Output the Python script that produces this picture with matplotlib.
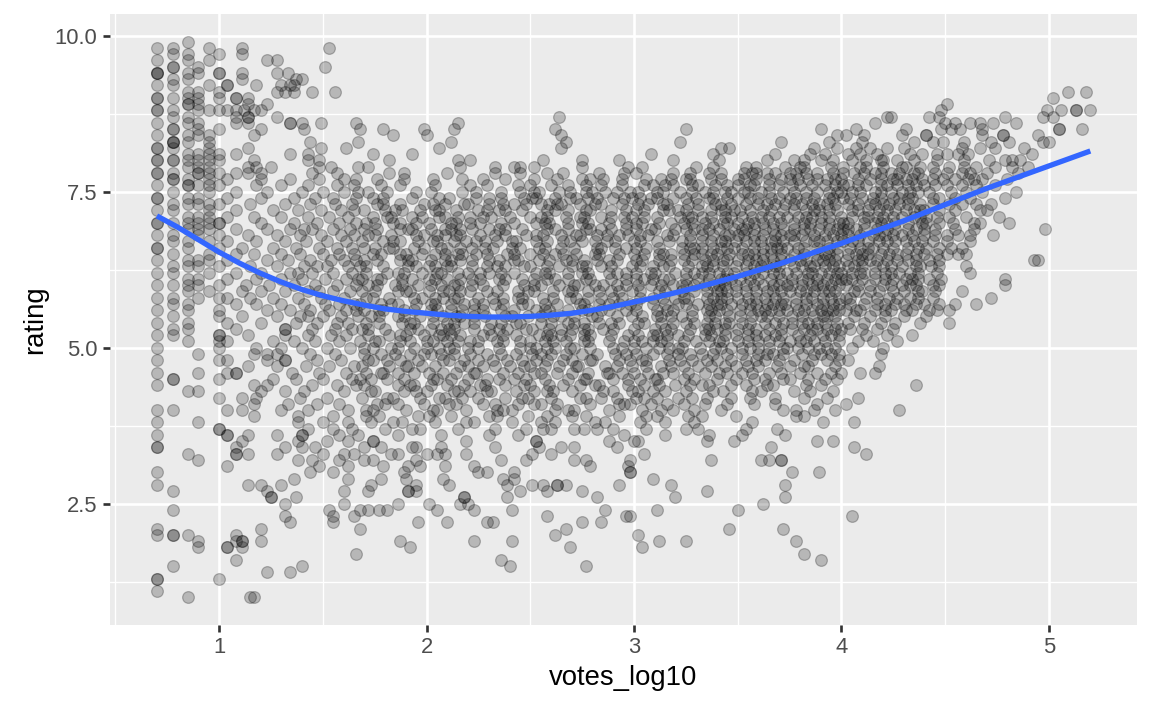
import numpy as np
import matplotlib
matplotlib.use("Agg")
import matplotlib.pyplot as plt

# votes_log10 values of the films, one list per rating row (ratings step 0.1)
ratings_1_2 = {
    1.0: [0.85, 1.15, 1.17],
    1.1: [0.70],
    1.3: [0.70, 0.70, 1.00],
    1.4: [1.23, 1.34],
    1.5: [0.78, 1.40, 2.40, 2.77],
    1.6: [1.08, 2.36, 3.90],
    1.7: [1.66, 3.82],
    1.8: [0.90, 1.04, 1.04, 1.11, 1.92, 2.69, 3.04],
    1.9: [0.90, 1.08, 1.11, 1.11, 1.20, 1.87, 2.23, 2.41, 3.12, 3.25, 3.78],
    2.0: [0.70, 0.78, 0.78, 0.85, 1.08, 2.62, 3.02],
    2.1: [0.70, 1.20, 1.68, 2.67, 3.46, 3.72],
    2.2: [1.34, 1.55, 1.96, 2.10, 2.29, 2.32, 2.75, 2.84],
    2.3: [1.32, 1.55, 1.65, 2.58, 2.96, 2.98, 4.05],
    2.4: [0.78, 1.53, 1.68, 1.72, 1.77, 1.81, 2.05, 2.23, 2.41, 2.86, 3.11, 3.50],
    2.5: [1.32, 1.60, 1.86, 2.01, 2.16, 2.20, 3.62],
    2.6: [1.25, 1.25, 1.37, 2.18, 2.18, 2.39, 2.82, 3.20, 3.73],
    2.7: [0.78, 1.23, 1.60, 1.72, 1.91, 1.91, 1.95, 2.45, 2.58, 2.75, 3.35],
    2.8: [0.70, 1.14, 1.20, 1.30, 1.73, 1.95, 2.11, 2.39, 2.51, 2.56, 2.63, 2.63,
          2.67, 2.93, 3.18, 3.73],
    2.9: [1.36, 1.62, 1.78, 1.90, 2.08, 2.37, 2.42, 3.09],
}

ratings_3 = {
    3.0: [0.70, 1.44, 1.55, 1.89, 2.25, 2.29, 2.42, 2.98, 2.98, 3.76, 3.89],
    3.1: [1.04, 1.48, 1.62, 1.79, 1.91, 1.97, 2.09, 2.23, 2.79, 2.97],
    3.2: [0.90, 1.38, 1.45, 1.58, 1.70, 1.74, 1.95, 2.36, 2.48, 2.71, 2.77, 2.98,
          3.37, 3.61, 3.65, 3.71, 3.71],
    3.3: [0.85, 1.08, 1.08, 1.14, 1.28, 1.50, 1.60, 1.65, 1.83, 1.86, 2.00, 2.05,
          2.09, 2.19, 2.51, 2.60, 3.05, 4.12],
    3.4: [0.70, 0.70, 1.08, 1.32, 1.40, 1.46, 1.70, 1.78, 1.93, 1.95, 2.07, 2.33,
          2.54, 2.65, 2.71, 2.92, 3.66, 4.06],
    3.5: [1.11, 1.38, 1.52, 1.62, 1.74, 1.74, 2.19, 2.53, 2.53, 2.88, 3.00, 3.02,
          3.35, 3.48, 3.88, 3.96],
    3.6: [0.70, 1.04, 1.04, 1.14, 1.28, 1.40, 1.40, 1.58, 1.67, 1.86, 2.07, 2.30,
          2.44, 2.95, 3.15, 3.36, 3.52, 3.73],
    3.7: [1.00, 1.00, 1.43, 1.55, 1.64, 1.80, 1.93, 1.97, 2.15, 2.33, 2.48, 2.56,
          2.60, 2.71, 2.76, 2.82, 2.90, 3.06, 3.25, 3.31, 3.54, 3.69],
    3.8: [0.70, 0.90, 1.38, 1.50, 1.62, 1.73, 1.84, 1.88, 2.04, 2.19, 2.23, 2.41,
          2.55, 2.62, 2.81, 2.86, 3.03, 3.15, 3.29, 3.57, 3.91, 4.06],
    3.9: [1.17, 1.38, 1.55, 1.71, 1.77, 1.96, 2.01, 2.12, 2.30, 2.34, 2.49, 2.58,
          2.70, 2.77, 2.93, 3.06, 3.11, 3.26, 3.33, 3.49, 3.78, 3.82],
}

ratings_4 = {
    4.0: [0.70, 0.78, 1.04, 1.11, 1.30, 1.43, 1.62, 1.71, 1.74, 1.90, 2.03, 2.05,
          2.19, 2.34, 2.37, 2.41, 2.62, 2.68, 2.71, 2.88, 3.04, 3.13, 3.19, 3.29,
          3.42, 3.72, 3.78, 3.87, 3.97, 4.28],
    4.1: [1.17, 1.33, 1.47, 1.58, 1.76, 1.80, 1.86, 1.99, 2.11, 2.14, 2.27, 2.33,
          2.44, 2.52, 2.55, 2.63, 2.79, 2.93, 2.95, 2.98, 3.08, 3.16, 3.24, 3.34,
          3.45, 3.58, 3.68, 3.88, 4.02],
    4.2: [1.00, 1.11, 1.18, 1.39, 1.52, 1.69, 1.81, 1.84, 1.97, 2.06, 2.09, 2.17,
          2.25, 2.38, 2.46, 2.49, 2.60, 2.74, 2.77, 2.84, 2.92, 3.01, 3.05, 3.11,
          3.21, 3.28, 3.35, 3.47, 3.56, 3.68, 3.82, 3.93, 4.08],
    4.3: [0.85, 0.90, 1.20, 1.32, 1.41, 1.60, 1.73, 1.75, 1.89, 1.95, 2.00, 2.13,
          2.15, 2.21, 2.29, 2.31, 2.43, 2.52, 2.58, 2.61, 2.70, 2.85, 2.90, 2.99,
          3.02, 3.09, 3.15, 3.25, 3.38, 3.43, 3.57, 3.61, 3.77, 3.85, 3.96],
    4.4: [0.70, 1.17, 1.23, 1.45, 1.57, 1.66, 1.70, 1.86, 1.92, 1.94, 2.02, 2.10,
          2.18, 2.26, 2.28, 2.38, 2.47, 2.50, 2.59, 2.66, 2.74, 2.81, 2.83, 2.97,
          3.05, 3.12, 3.20, 3.27, 3.33, 3.36, 3.47, 3.54, 3.64, 3.67, 3.83, 3.90,
          4.36],
    4.5: [0.78, 0.78, 1.00, 1.26, 1.37, 1.50, 1.64, 1.68, 1.73, 1.81, 1.89, 2.03,
          2.05, 2.12, 2.20, 2.29, 2.35, 2.42, 2.48, 2.57, 2.68, 2.76, 2.77, 2.90,
          2.97, 3.03, 3.10, 3.11, 3.24, 3.29, 3.40, 3.49, 3.58, 3.63, 3.72, 3.75,
          3.84, 3.92, 3.98],
    4.6: [0.70, 0.90, 1.04, 1.08, 1.08, 1.35, 1.48, 1.61, 1.71, 1.78, 1.79, 1.86,
          1.94, 2.01, 2.08, 2.14, 2.23, 2.24, 2.37, 2.44, 2.52, 2.55, 2.63, 2.70,
          2.78, 2.87, 2.88, 2.94, 3.00, 3.07, 3.14, 3.19, 3.26, 3.34, 3.41, 3.45,
          3.52, 3.57, 3.65, 3.71, 3.80, 3.88, 3.95, 4.00, 4.09, 4.16],
    4.7: [1.14, 1.28, 1.42, 1.53, 1.65, 1.69, 1.82, 1.90, 1.91, 1.98, 2.04, 2.16,
          2.20, 2.27, 2.33, 2.40, 2.47, 2.50, 2.57, 2.64, 2.72, 2.73, 2.86, 2.92,
          2.99, 3.06, 3.13, 3.18, 3.24, 3.31, 3.37, 3.44, 3.49, 3.55, 3.60, 3.69,
          3.75, 3.82, 3.84, 3.97, 4.18],
    4.8: [0.70, 1.00, 1.04, 1.23, 1.32, 1.32, 1.47, 1.59, 1.72, 1.74, 1.81, 1.87,
          1.96, 2.08, 2.11, 2.18, 2.25, 2.32, 2.39, 2.46, 2.53, 2.58, 2.66, 2.70,
          2.79, 2.80, 2.93, 2.98, 3.04, 3.06, 3.17, 3.22, 3.28, 3.35, 3.40, 3.47,
          3.54, 3.59, 3.63, 3.70, 3.77, 3.86, 3.93, 3.99, 4.03],
    4.9: [0.90, 1.17, 1.23, 1.28, 1.44, 1.56, 1.70, 1.78, 1.85, 1.92, 1.99, 2.02,
          2.07, 2.13, 2.21, 2.29, 2.36, 2.43, 2.51, 2.55, 2.60, 2.67, 2.75, 2.82,
          2.91, 2.96, 3.01, 3.09, 3.16, 3.21, 3.27, 3.33, 3.38, 3.45, 3.52, 3.60,
          3.64, 3.67, 3.72, 3.81, 3.87, 3.90, 3.95, 3.99, 4.19],
}

ratings_5 = {
    5.0: [0.70, 1.00, 1.18, 1.30, 1.40, 1.52, 1.63, 1.70, 1.74, 1.83, 1.86, 1.94,
          2.00, 2.06, 2.11, 2.13, 2.20, 2.25, 2.35, 2.45, 2.50, 2.53, 2.58, 2.62,
          2.69, 2.71, 2.79, 2.90, 2.94, 3.00, 3.06, 3.12, 3.17, 3.21, 3.23, 3.32,
          3.39, 3.42, 3.47, 3.52, 3.56, 3.60, 3.65, 3.72, 3.74, 3.79, 3.84, 3.89,
          3.93, 3.97, 4.05, 4.20],
    5.1: [0.85, 1.00, 1.04, 1.26, 1.36, 1.46, 1.58, 1.68, 1.75, 1.77, 1.87, 1.92,
          2.00, 2.03, 2.10, 2.15, 2.21, 2.25, 2.34, 2.37, 2.45, 2.50, 2.57, 2.61,
          2.67, 2.76, 2.78, 2.88, 2.95, 3.00, 3.04, 3.09, 3.13, 3.16, 3.24, 3.30,
          3.36, 3.41, 3.43, 3.50, 3.55, 3.60, 3.65, 3.70, 3.75, 3.80, 3.83, 3.87,
          3.92, 3.99, 4.08, 4.15, 4.27],
    5.2: [0.70, 0.78, 1.00, 1.00, 1.14, 1.32, 1.43, 1.54, 1.61, 1.72, 1.82, 1.87,
          1.90, 1.99, 2.06, 2.08, 2.12, 2.16, 2.27, 2.31, 2.37, 2.43, 2.54, 2.58,
          2.60, 2.65, 2.69, 2.76, 2.79, 2.89, 2.97, 3.02, 3.09, 3.11, 3.16, 3.21,
          3.26, 3.34, 3.37, 3.44, 3.49, 3.55, 3.59, 3.63, 3.68, 3.71, 3.79, 3.85,
          3.91, 3.95, 3.99, 4.12, 4.22, 4.34],
    5.3: [0.78, 0.85, 1.08, 1.32, 1.32, 1.45, 1.56, 1.64, 1.69, 1.72, 1.80, 1.92,
          1.96, 2.02, 2.07, 2.11, 2.13, 2.23, 2.30, 2.35, 2.39, 2.48, 2.51, 2.59,
          2.65, 2.70, 2.76, 2.78, 2.85, 2.90, 3.00, 3.10, 3.15, 3.18, 3.27, 3.34,
          3.36, 3.40, 3.44, 3.50, 3.55, 3.59, 3.65, 3.71, 3.76, 3.82, 3.86, 3.88,
          3.93, 3.97, 4.00, 4.04, 4.10, 4.17, 4.25],
    5.4: [0.70, 0.85, 1.04, 1.20, 1.37, 1.47, 1.57, 1.62, 1.71, 1.77, 1.88, 1.92,
          1.94, 2.03, 2.10, 2.13, 2.18, 2.23, 2.31, 2.36, 2.43, 2.45, 2.55, 2.60,
          2.68, 2.71, 2.76, 2.83, 2.89, 2.93, 3.02, 3.05, 3.13, 3.19, 3.25, 3.29,
          3.35, 3.39, 3.44, 3.46, 3.52, 3.56, 3.63, 3.68, 3.72, 3.76, 3.81, 3.84,
          3.88, 3.92, 3.98, 4.03, 4.11, 4.19, 4.26, 4.38, 4.52],
    5.5: [0.78, 1.00, 1.11, 1.28, 1.39, 1.43, 1.50, 1.59, 1.67, 1.73, 1.77, 1.86,
          1.89, 1.97, 2.03, 2.08, 2.14, 2.16, 2.23, 2.28, 2.38, 2.41, 2.49, 2.55,
          2.61, 2.65, 2.71, 2.80, 2.82, 2.92, 2.99, 3.04, 3.11, 3.13, 3.18, 3.23,
          3.28, 3.36, 3.39, 3.46, 3.51, 3.57, 3.61, 3.64, 3.70, 3.76, 3.81, 3.87,
          3.91, 3.93, 3.97, 4.06, 4.14, 4.21, 4.30, 4.41],
    5.6: [0.70, 0.85, 1.00, 1.23, 1.34, 1.44, 1.53, 1.61, 1.66, 1.70, 1.77, 1.79,
          1.89, 1.94, 2.02, 2.05, 2.12, 2.17, 2.23, 2.27, 2.36, 2.42, 2.53, 2.57,
          2.59, 2.68, 2.75, 2.78, 2.84, 2.88, 2.96, 3.01, 3.11, 3.16, 3.19, 3.28,
          3.35, 3.37, 3.41, 3.45, 3.51, 3.56, 3.60, 3.63, 3.66, 3.70, 3.74, 3.79,
          3.82, 3.86, 3.90, 3.93, 3.96, 3.99, 4.02, 4.07, 4.09, 4.16, 4.21, 4.24,
          4.31, 4.34, 4.42, 4.46, 4.52],
    5.7: [0.78, 0.85, 1.08, 1.18, 1.30, 1.41, 1.51, 1.58, 1.65, 1.68, 1.78, 1.83,
          1.86, 1.95, 2.02, 2.04, 2.12, 2.18, 2.23, 2.27, 2.33, 2.37, 2.46, 2.49,
          2.57, 2.63, 2.74, 2.76, 2.83, 2.88, 2.93, 2.98, 3.01, 3.09, 3.15, 3.21,
          3.25, 3.31, 3.36, 3.40, 3.42, 3.47, 3.52, 3.56, 3.59, 3.64, 3.67, 3.71,
          3.73, 3.78, 3.83, 3.88, 3.91, 3.96, 3.99, 4.04, 4.11, 4.17, 4.21, 4.26,
          4.30, 4.36, 4.40, 4.47, 4.55, 4.65],
    5.8: [0.70, 0.78, 0.90, 1.00, 1.04, 1.15, 1.26, 1.38, 1.49, 1.60, 1.71, 1.74,
          1.82, 1.94, 1.98, 2.04, 2.08, 2.13, 2.15, 2.25, 2.32, 2.37, 2.44, 2.46,
          2.56, 2.61, 2.69, 2.72, 2.78, 2.84, 2.90, 2.94, 3.03, 3.09, 3.14, 3.20,
          3.24, 3.26, 3.35, 3.38, 3.42, 3.45, 3.50, 3.55, 3.59, 3.63, 3.68, 3.72,
          3.78, 3.83, 3.86, 3.91, 3.95, 3.99, 4.02, 4.04, 4.12, 4.17, 4.23, 4.27,
          4.33, 4.37, 4.44, 4.72],
    5.9: [0.85, 0.95, 1.11, 1.20, 1.32, 1.43, 1.48, 1.55, 1.63, 1.69, 1.75, 1.86,
          1.90, 1.92, 2.01, 2.08, 2.11, 2.16, 2.21, 2.29, 2.34, 2.44, 2.49, 2.52,
          2.61, 2.68, 2.70, 2.78, 2.83, 2.89, 2.93, 2.99, 3.03, 3.12, 3.15, 3.23,
          3.29, 3.35, 3.40, 3.42, 3.45, 3.49, 3.54, 3.59, 3.64, 3.67, 3.71, 3.75,
          3.80, 3.83, 3.87, 3.91, 3.94, 3.97, 4.06, 4.08, 4.14, 4.18, 4.25, 4.30,
          4.37, 4.39, 4.45, 4.58],
}

ratings_6 = {
    6.0: [0.70, 0.78, 0.85, 0.90, 1.00, 1.13, 1.24, 1.36, 1.46, 1.57, 1.66, 1.72,
          1.76, 1.85, 1.88, 1.96, 2.02, 2.07, 2.13, 2.15, 2.22, 2.27, 2.37, 2.47,
          2.52, 2.55, 2.64, 2.71, 2.73, 2.81, 2.85, 2.92, 2.96, 3.02, 3.08, 3.13,
          3.19, 3.23, 3.25, 3.29, 3.34, 3.38, 3.41, 3.44, 3.49, 3.54, 3.58, 3.62,
          3.67, 3.70, 3.74, 3.76, 3.81, 3.86, 3.88, 3.91, 3.95, 3.99, 4.02, 4.08,
          4.14, 4.20, 4.24, 4.29, 4.33, 4.36, 4.44, 4.47, 4.79],
    6.1: [0.85, 0.90, 1.04, 1.18, 1.30, 1.40, 1.51, 1.61, 1.67, 1.69, 1.76, 1.78,
          1.88, 1.93, 2.01, 2.04, 2.10, 2.16, 2.22, 2.26, 2.35, 2.38, 2.46, 2.52,
          2.58, 2.62, 2.68, 2.77, 2.79, 2.89, 2.96, 3.01, 3.05, 3.09, 3.14, 3.17,
          3.25, 3.31, 3.36, 3.42, 3.44, 3.47, 3.51, 3.56, 3.60, 3.66, 3.71, 3.76,
          3.81, 3.84, 3.88, 3.93, 3.97, 4.00, 4.02, 4.05, 4.10, 4.16, 4.21, 4.25,
          4.31, 4.34, 4.37, 4.42, 4.48, 4.79],
    6.2: [0.70, 0.78, 0.95, 1.08, 1.20, 1.34, 1.38, 1.45, 1.55, 1.64, 1.71, 1.81,
          1.86, 1.89, 1.98, 2.05, 2.07, 2.15, 2.20, 2.26, 2.30, 2.36, 2.42, 2.53,
          2.57, 2.59, 2.68, 2.75, 2.78, 2.88, 2.92, 2.96, 3.01, 3.08, 3.10, 3.20,
          3.25, 3.29, 3.33, 3.36, 3.41, 3.45, 3.48, 3.54, 3.58, 3.62, 3.67, 3.70,
          3.74, 3.78, 3.84, 3.86, 3.90, 3.94, 3.98, 4.00, 4.05, 4.09, 4.11, 4.16,
          4.21, 4.24, 4.28, 4.33, 4.37, 4.46, 4.62],
    6.3: [0.78, 0.85, 0.90, 1.00, 1.15, 1.28, 1.41, 1.47, 1.52, 1.62, 1.68, 1.71,
          1.79, 1.91, 1.95, 2.01, 2.04, 2.10, 2.12, 2.22, 2.29, 2.34, 2.38, 2.47,
          2.50, 2.58, 2.64, 2.70, 2.75, 2.77, 2.84, 2.89, 2.99, 3.03, 3.09, 3.14,
          3.17, 3.26, 3.33, 3.35, 3.38, 3.43, 3.49, 3.54, 3.58, 3.61, 3.64, 3.68,
          3.70, 3.77, 3.81, 3.85, 3.87, 3.92, 3.96, 3.99, 4.03, 4.06, 4.10, 4.16,
          4.20, 4.24, 4.29, 4.36, 4.38, 4.43, 4.47, 4.60],
    6.4: [0.70, 0.85, 0.90, 0.95, 1.04, 1.23, 1.33, 1.44, 1.54, 1.60, 1.66, 1.70,
          1.76, 1.87, 1.91, 1.93, 2.02, 2.09, 2.12, 2.16, 2.22, 2.30, 2.35, 2.42,
          2.44, 2.54, 2.59, 2.67, 2.70, 2.76, 2.82, 2.88, 2.92, 3.01, 3.04, 3.12,
          3.18, 3.24, 3.28, 3.34, 3.38, 3.43, 3.45, 3.50, 3.55, 3.59, 3.62, 3.67,
          3.71, 3.75, 3.80, 3.83, 3.88, 3.91, 3.94, 3.97, 4.02, 4.08, 4.10, 4.14,
          4.17, 4.22, 4.27, 4.32, 4.36, 4.42, 4.47, 4.93, 4.95],
    6.5: [0.78, 0.95, 1.08, 1.17, 1.30, 1.39, 1.50, 1.58, 1.65, 1.74, 1.78, 1.87,
          1.90, 1.98, 2.04, 2.09, 2.15, 2.17, 2.24, 2.29, 2.39, 2.42, 2.50, 2.56,
          2.62, 2.66, 2.72, 2.81, 2.83, 2.93, 3.00, 3.05, 3.12, 3.14, 3.18, 3.24,
          3.29, 3.33, 3.37, 3.40, 3.46, 3.52, 3.55, 3.58, 3.62, 3.66, 3.71, 3.77,
          3.82, 3.88, 3.92, 3.94, 3.98, 4.03, 4.07, 4.10, 4.13, 4.19, 4.23, 4.27,
          4.31, 4.36, 4.40, 4.46, 4.51, 4.56, 4.60],
    6.6: [0.70, 0.70, 0.85, 1.00, 1.11, 1.26, 1.37, 1.48, 1.57, 1.64, 1.70, 1.75,
          1.82, 1.84, 1.94, 1.99, 2.07, 2.10, 2.16, 2.22, 2.28, 2.32, 2.41, 2.45,
          2.54, 2.57, 2.65, 2.71, 2.82, 2.84, 2.91, 2.96, 3.01, 3.06, 3.12, 3.23,
          3.27, 3.29, 3.33, 3.38, 3.42, 3.45, 3.48, 3.52, 3.58, 3.62, 3.66, 3.69,
          3.71, 3.74, 3.79, 3.82, 3.88, 3.94, 3.98, 4.04, 4.09, 4.13, 4.15, 4.20,
          4.25, 4.32, 4.37, 4.41, 4.47, 4.53, 4.58],
    6.7: [0.78, 0.85, 0.95, 1.04, 1.18, 1.32, 1.42, 1.52, 1.61, 1.69, 1.79, 1.84,
          1.87, 1.96, 2.03, 2.05, 2.13, 2.19, 2.24, 2.28, 2.34, 2.41, 2.43, 2.53,
          2.58, 2.66, 2.69, 2.75, 2.81, 2.87, 2.91, 3.00, 3.03, 3.11, 3.17, 3.23,
          3.27, 3.33, 3.37, 3.42, 3.44, 3.49, 3.54, 3.58, 3.61, 3.66, 3.68, 3.72,
          3.77, 3.83, 3.87, 3.89, 3.93, 3.98, 4.01, 4.05, 4.08, 4.13, 4.18, 4.22,
          4.26, 4.31, 4.35, 4.39, 4.44, 4.51, 4.62],
    6.8: [0.70, 0.78, 0.90, 1.00, 1.14, 1.28, 1.39, 1.49, 1.59, 1.65, 1.72, 1.75,
          1.83, 1.95, 1.99, 2.05, 2.09, 2.14, 2.16, 2.26, 2.33, 2.38, 2.48, 2.53,
          2.56, 2.65, 2.72, 2.74, 2.82, 2.87, 2.93, 2.97, 3.03, 3.07, 3.16, 3.19,
          3.27, 3.33, 3.38, 3.44, 3.46, 3.50, 3.53, 3.58, 3.62, 3.68, 3.71, 3.75,
          3.77, 3.81, 3.87, 3.92, 3.96, 4.00, 4.03, 4.09, 4.15, 4.18, 4.21, 4.25,
          4.29, 4.34, 4.40, 4.45, 4.51, 4.56, 4.62, 4.73],
    6.9: [0.85, 0.90, 0.95, 1.08, 1.23, 1.34, 1.41, 1.45, 1.55, 1.63, 1.70, 1.76,
          1.87, 1.91, 1.93, 2.02, 2.09, 2.12, 2.16, 2.22, 2.30, 2.35, 2.38, 2.46,
          2.58, 2.62, 2.68, 2.77, 2.79, 2.84, 2.89, 2.96, 3.01, 3.08, 3.10, 3.20,
          3.25, 3.29, 3.33, 3.36, 3.41, 3.48, 3.52, 3.54, 3.58, 3.63, 3.67, 3.72,
          3.77, 3.82, 3.85, 3.89, 3.94, 3.98, 4.01, 4.03, 4.07, 4.11, 4.17, 4.22,
          4.26, 4.32, 4.36, 4.40, 4.45, 4.55, 4.64, 4.98],
}

ratings_7 = {
    7.0: [0.70, 0.70, 0.78, 0.85, 0.90, 0.95, 1.00, 1.00, 1.20, 1.36, 1.47, 1.58,
          1.66, 1.71, 1.75, 1.84, 1.87, 1.95, 2.01, 2.12, 2.14, 2.21, 2.26, 2.36,
          2.42, 2.53, 2.57, 2.59, 2.68, 2.75, 2.78, 2.88, 2.96, 3.01, 3.04, 3.12,
          3.18, 3.24, 3.28, 3.34, 3.38, 3.43, 3.45, 3.50, 3.55, 3.58, 3.62, 3.67,
          3.71, 3.77, 3.82, 3.85, 3.90, 3.94, 3.99, 4.01, 4.03, 4.11, 4.16, 4.19,
          4.22, 4.26, 4.32, 4.39, 4.41, 4.47, 4.54, 4.64, 4.67, 4.81],
    7.1: [0.85, 0.90, 0.95, 1.04, 1.17, 1.30, 1.43, 1.53, 1.62, 1.74, 1.81, 1.83,
          1.93, 1.98, 2.06, 2.09, 2.15, 2.21, 2.27, 2.31, 2.40, 2.50, 2.55, 2.58,
          2.67, 2.74, 2.76, 2.84, 2.89, 2.95, 2.99, 3.05, 3.11, 3.22, 3.26, 3.28,
          3.33, 3.37, 3.44, 3.47, 3.52, 3.57, 3.61, 3.65, 3.70, 3.74, 3.79, 3.83,
          3.86, 3.90, 3.94, 4.00, 4.05, 4.11, 4.13, 4.17, 4.20, 4.25, 4.29, 4.35,
          4.38, 4.41, 4.46, 4.52, 4.60, 4.76],
    7.2: [0.70, 0.78, 0.95, 1.08, 1.26, 1.38, 1.49, 1.59, 1.65, 1.70, 1.80, 1.85,
          1.88, 1.97, 2.04, 2.06, 2.14, 2.25, 2.29, 2.35, 2.38, 2.46, 2.58, 2.62,
          2.68, 2.77, 2.79, 2.89, 2.96, 3.01, 3.05, 3.14, 3.17, 3.21, 3.25, 3.31,
          3.37, 3.42, 3.44, 3.48, 3.51, 3.56, 3.62, 3.66, 3.72, 3.77, 3.83, 3.87,
          3.89, 3.94, 3.98, 4.05, 4.08, 4.13, 4.18, 4.22, 4.26, 4.31, 4.35, 4.38,
          4.40, 4.47, 4.55, 4.67, 4.70],
    7.3: [0.78, 0.85, 0.90, 0.95, 1.00, 1.15, 1.32, 1.44, 1.56, 1.64, 1.76, 1.79,
          1.87, 1.99, 2.03, 2.09, 2.18, 2.20, 2.30, 2.37, 2.42, 2.48, 2.55, 2.59,
          2.63, 2.65, 2.74, 2.81, 2.84, 2.94, 3.02, 3.07, 3.14, 3.16, 3.26, 3.31,
          3.39, 3.42, 3.47, 3.54, 3.60, 3.64, 3.68, 3.73, 3.77, 3.81, 3.86, 3.89,
          3.93, 3.97, 4.03, 4.08, 4.14, 4.16, 4.20, 4.23, 4.28, 4.32, 4.38, 4.44,
          4.52, 4.58, 4.65, 4.72],
    7.4: [0.70, 0.70, 0.85, 0.90, 1.04, 1.20, 1.36, 1.46, 1.55, 1.66, 1.74, 1.79,
          1.93, 2.06, 2.11, 2.24, 2.30, 2.36, 2.47, 2.51, 2.53, 2.62, 2.69, 2.72,
          2.78, 2.82, 2.90, 2.95, 2.99, 3.03, 3.08, 3.11, 3.19, 3.25, 3.30, 3.36,
          3.38, 3.45, 3.50, 3.56, 3.60, 3.66, 3.70, 3.75, 3.78, 3.83, 3.87, 3.94,
          3.96, 4.01, 4.04, 4.10, 4.15, 4.19, 4.25, 4.28, 4.32, 4.34, 4.44, 4.47,
          4.55, 4.62, 4.79],
    7.5: [0.78, 0.95, 1.08, 1.23, 1.40, 1.50, 1.60, 1.67, 1.72, 1.81, 1.95, 2.02,
          2.17, 2.24, 2.36, 2.45, 2.52, 2.54, 2.64, 2.69, 2.77, 2.80, 2.86, 2.92,
          2.98, 3.02, 3.11, 3.14, 3.22, 3.28, 3.34, 3.38, 3.44, 3.47, 3.53, 3.55,
          3.61, 3.65, 3.72, 3.77, 3.83, 3.88, 3.94, 3.98, 4.00, 4.05, 4.09, 4.16,
          4.19, 4.24, 4.29, 4.33, 4.37, 4.42, 4.53, 4.60, 4.68, 4.84],
    7.6: [0.70, 0.85, 0.85, 0.90, 0.95, 1.00, 1.18, 1.30, 1.43, 1.57, 1.65, 1.78,
          1.87, 2.04, 2.21, 2.29, 2.44, 2.50, 2.60, 2.68, 2.77, 2.84, 2.94, 3.05,
          3.09, 3.15, 3.19, 3.28, 3.31, 3.39, 3.45, 3.50, 3.56, 3.58, 3.65, 3.70,
          3.76, 3.80, 3.86, 3.92, 3.97, 4.01, 4.03, 4.08, 4.12, 4.19, 4.22, 4.27,
          4.32, 4.36, 4.40, 4.45, 4.51, 4.58, 4.65, 4.74],
    7.7: [0.78, 0.78, 0.85, 0.95, 1.04, 1.20, 1.34, 1.48, 1.60, 1.66, 1.76, 1.89,
          2.03, 2.17, 2.27, 2.38, 2.52, 2.63, 2.75, 2.79, 2.85, 2.94, 3.06, 3.13,
          3.18, 3.25, 3.27, 3.37, 3.42, 3.50, 3.53, 3.59, 3.65, 3.71, 3.75, 3.79,
          3.84, 3.88, 3.93, 3.97, 4.00, 4.08, 4.14, 4.19, 4.25, 4.27, 4.31, 4.34,
          4.39, 4.44, 4.49, 4.55, 4.61, 4.64, 4.68, 4.80],
    7.8: [0.70, 0.70, 0.78, 0.90, 0.90, 0.95, 1.00, 1.08, 1.14, 1.20, 1.45, 1.57,
          1.82, 1.89, 2.10, 2.33, 2.45, 2.58, 2.66, 2.83, 2.95, 3.01, 3.19, 3.27,
          3.36, 3.42, 3.53, 3.57, 3.59, 3.64, 3.68, 3.75, 3.78, 3.83, 3.88, 3.96,
          4.01, 4.06, 4.11, 4.16, 4.19, 4.24, 4.28, 4.35, 4.37, 4.45, 4.51, 4.58,
          4.62, 4.70, 4.85],
    7.9: [0.85, 0.90, 0.95, 1.14, 1.18, 1.25, 1.48, 1.54, 1.67, 1.72, 2.16, 2.33,
          2.42, 2.45, 2.52, 2.75, 2.97, 3.04, 3.30, 3.38, 3.54, 3.59, 3.73, 3.80,
          3.82, 3.95, 4.01, 4.09, 4.12, 4.20, 4.29, 4.31, 4.38, 4.44, 4.52, 4.59,
          4.65, 4.74, 4.82, 4.90],
}

ratings_8 = {
    8.0: [0.70, 0.70, 0.78, 0.78, 0.85, 0.90, 0.95, 1.00, 1.17, 1.43, 1.48, 1.82,
          2.15, 2.21, 2.56, 2.75, 2.93, 3.19, 3.41, 3.64, 3.77, 3.82, 3.90, 3.96,
          4.05, 4.12, 4.19, 4.20, 4.27, 4.35, 4.46, 4.59, 4.71, 4.79, 4.82, 4.86],
    8.1: [0.85, 0.90, 0.95, 1.00, 1.08, 1.34, 1.43, 1.74, 1.93, 3.08, 3.38, 3.68,
          3.85, 3.92, 4.03, 4.09, 4.17, 4.33, 4.39, 4.46, 4.51, 4.56, 4.61, 4.92],
    8.2: [0.70, 0.70, 0.78, 0.95, 1.14, 1.49, 1.61, 2.06, 2.65, 3.42, 3.46, 3.87,
          3.98, 4.07, 4.14, 4.22, 4.30, 4.58, 4.67, 4.74, 4.88],
    8.3: [0.78, 0.78, 0.78, 0.85, 0.95, 1.44, 1.67, 2.12, 2.67, 3.22, 3.71, 3.94,
          4.10, 4.35, 4.44, 4.49, 4.59, 4.72, 4.81, 4.97, 5.00],
    8.4: [0.70, 0.85, 0.90, 0.95, 1.17, 1.84, 2.00, 2.65, 3.98, 4.02, 4.11, 4.29,
          4.41, 4.41, 4.68, 4.78, 4.78, 4.95],
    8.5: [0.78, 0.78, 0.90, 1.00, 1.20, 1.41, 1.68, 1.79, 1.99, 2.13, 2.62, 3.25,
          3.90, 4.07, 4.31, 4.48, 4.53, 4.57, 4.68, 5.05, 5.05, 5.16],
    8.6: [0.70, 0.85, 0.90, 1.08, 1.14, 1.34, 1.34, 1.40, 1.49, 1.66, 2.15, 4.16,
          4.50, 4.55, 4.62, 4.67, 4.73, 4.84],
    8.7: [0.78, 0.85, 1.08, 1.14, 1.14, 1.28, 2.64, 4.22, 4.24, 4.42, 4.47, 4.79,
          4.97, 5.02],
    8.8: [0.70, 0.70, 0.78, 0.90, 0.95, 1.00, 1.04, 1.08, 1.12, 1.17, 1.20, 4.48,
          4.99, 5.06, 5.13, 5.13, 5.20],
    8.9: [0.85, 0.85, 0.90, 1.14, 1.23, 4.51],
}

ratings_9 = {
    9.0: [0.70, 0.70, 0.78, 0.85, 0.90, 1.00, 1.08, 1.08, 1.14, 5.02],
    9.1: [0.85, 0.90, 1.00, 1.28, 1.32, 1.36, 1.45, 1.56, 5.09, 5.18],
    9.2: [0.70, 0.78, 0.95, 1.04, 1.04, 1.18, 1.30, 1.34, 1.36],
    9.3: [0.78, 0.85, 1.11, 1.37, 1.40],
    9.4: [0.70, 0.70, 0.70, 0.85, 0.90, 1.00, 1.00, 1.11, 1.28, 1.33],
    9.5: [0.78, 0.78, 0.90, 1.51],
    9.6: [0.70, 0.85, 0.95, 1.23, 1.28],
    9.7: [0.78, 0.85, 1.00, 1.11],
    9.8: [0.70, 0.78, 0.95, 1.11, 1.53],
    9.9: [0.85],
}

# smoothed trend
smooth_x = [0.70, 0.80, 0.90, 1.00, 1.10, 1.20, 1.30, 1.40, 1.50, 1.60, 1.70,
            1.80, 1.90, 2.00, 2.10, 2.20, 2.30, 2.40, 2.50, 2.60, 2.70, 2.80,
            2.90, 3.00, 3.10, 3.20, 3.30, 3.40, 3.50, 3.60, 3.70, 3.80, 3.90,
            4.00, 4.10, 4.20, 4.30, 4.40, 4.50, 4.60, 4.70, 4.80, 4.90, 5.00,
            5.10, 5.20]
smooth_y = [7.11, 6.93, 6.73, 6.53, 6.35, 6.19, 6.05, 5.93, 5.83, 5.75, 5.68,
            5.62, 5.58, 5.55, 5.52, 5.50, 5.49, 5.49, 5.50, 5.52, 5.55, 5.60,
            5.66, 5.73, 5.80, 5.88, 5.96, 6.05, 6.14, 6.24, 6.34, 6.45, 6.56,
            6.67, 6.79, 6.91, 7.03, 7.16, 7.29, 7.42, 7.55, 7.67, 7.79, 7.91,
            8.03, 8.15]


def collect(*bands):
    xs, ys = [], []
    for band in bands:
        for r, row in band.items():
            xs += row
            ys += [r] * len(row)
    return np.array(xs), np.array(ys)


votes, rating = collect(ratings_1_2, ratings_3, ratings_4, ratings_5,
                        ratings_6, ratings_7, ratings_8, ratings_9)

plt.rcParams['font.family'] = ['Liberation Sans', 'DejaVu Sans']

fig = plt.figure(figsize=(6.4, 3.95), dpi=180)
ax = fig.add_axes([110 / 1152, 1 - 625 / 711, 1027 / 1152, 611 / 711])
ax.set_facecolor('#EBEBEB')
for sp in ax.spines.values():
    sp.set_visible(False)

ax.scatter(votes, rating, s=22, facecolor=(0, 0, 0, 0.22),
           edgecolor=(0, 0, 0, 0.25), linewidths=0.5, zorder=2)
ax.plot(smooth_x, smooth_y, color='#3366FF', lw=2.13, zorder=3,
        solid_capstyle='butt')

ax.set_xlim(0.474, 5.425)
ax.set_ylim(0.555, 10.345)
ax.set_xticks([1, 2, 3, 4, 5])
ax.set_xticks([0.5, 1.5, 2.5, 3.5, 4.5], minor=True)
ax.set_yticks([2.5, 5.0, 7.5, 10.0])
ax.set_yticklabels(['2.5', '5.0', '7.5', '10.0'])
ax.set_yticks([1.25, 3.75, 6.25, 8.75], minor=True)
ax.grid(which='major', color='white', linewidth=1.07)
ax.grid(which='minor', color='white', linewidth=0.53)
ax.set_axisbelow(True)
ax.tick_params(which='major', length=2.75, width=1.07, color='#333333',
               labelsize=8.8, labelcolor='#4D4D4D', pad=2.2)
ax.tick_params(which='minor', length=0)

ax.set_xlabel('votes_log10', fontsize=11, labelpad=2.75)
ax.set_ylabel('rating', fontsize=11, labelpad=2.75)

fig.savefig('out.png', dpi=180)
